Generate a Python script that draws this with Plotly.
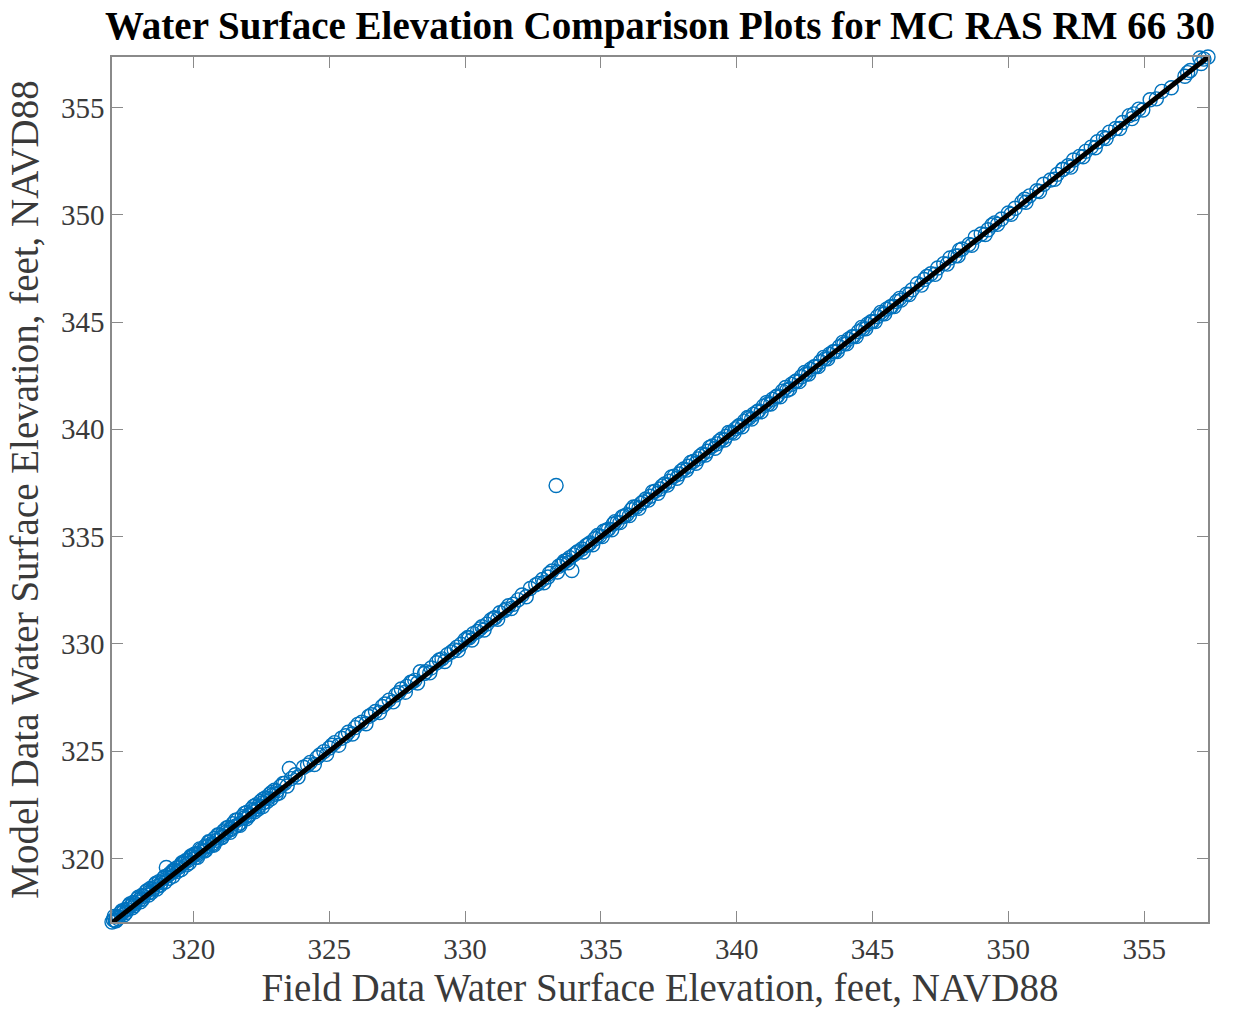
import plotly.graph_objects as go

# Observed (field) and simulated (model) water surface elevations, feet NAVD88
field_wse = [
    317.00, 317.05, 317.12, 317.18, 317.25, 317.31, 317.40, 317.46, 317.55, 317.62,
    317.70, 317.78, 317.85, 317.93, 318.02, 318.10, 318.17, 318.25, 318.34, 318.41,
    318.50, 318.58, 318.66, 318.73, 318.82, 318.90, 319.00, 319.05, 319.14, 319.22,
    319.30, 319.38, 319.47, 319.55, 319.63, 319.71, 319.80, 319.88, 319.95, 320.03,
    320.10, 320.18, 320.27, 320.35, 320.44, 320.52, 320.60, 320.69, 320.77, 320.86,
    320.94, 321.03, 321.11, 321.20, 321.28, 321.37, 321.45, 321.54, 321.62, 321.71,
    321.79, 321.88, 321.96, 322.05, 322.13, 322.22, 322.30, 322.39, 322.47, 322.56,
    322.64, 322.73, 322.81, 322.90, 322.98, 323.07, 323.20, 323.36, 323.53, 323.75,
    324.05, 324.30, 324.55, 324.80, 325.00, 325.20, 325.45, 325.70, 325.95, 326.20,
    326.45, 326.70, 326.95, 327.20, 327.45, 327.65, 327.85, 328.00, 328.15, 328.35,
    328.55, 328.75, 328.95, 329.15, 329.35, 329.50, 329.70, 329.85, 330.00, 330.15,
    330.30, 330.45, 330.62, 330.80, 330.95, 331.10, 331.28, 331.45, 331.60, 331.78,
    331.95, 332.40, 332.60, 332.85, 333.05, 333.20, 333.35, 333.45, 333.55, 333.65,
    333.75, 333.85, 333.93, 334.00,
    334.15, 334.30, 334.45, 334.60, 334.78, 334.95, 335.10, 335.28, 335.45, 335.60,
    335.78, 335.95, 336.12, 336.30, 336.48, 336.65, 336.82, 337.00, 337.18, 337.35,
    337.52, 337.70, 337.88, 338.05, 338.22, 338.40, 338.58, 338.75, 338.92, 339.10,
    339.28, 339.45, 339.62, 339.80, 339.95, 340.10,
    340.28, 340.45, 340.62, 340.80, 340.98, 341.15, 341.32, 341.50, 341.68, 341.85,
    342.02, 342.20, 342.38, 342.55, 342.72, 342.90, 343.08, 343.25, 343.42, 343.60,
    343.78, 343.95, 344.12, 344.30, 344.48, 344.65, 344.82, 345.00, 345.18, 345.35,
    345.52, 345.70, 345.88, 346.05, 346.25, 346.45,
    346.65, 346.90, 347.15, 347.40, 347.62, 347.85, 348.05, 348.30, 348.55, 348.78,
    349.00, 349.25, 349.50, 349.75, 350.00, 350.25, 350.50, 350.78, 351.05, 351.30,
    351.55, 351.80, 352.00, 352.20,
    352.40, 352.62, 352.85, 353.05, 353.28, 353.50, 353.72, 353.95, 354.20, 354.45,
    354.62, 354.80, 355.22, 355.65, 356.60, 356.70, 357.05, 357.20, 357.35,
    # second survey pass
    317.08, 317.22, 317.36, 317.52, 317.66, 317.82, 317.97, 318.13, 318.29, 318.46,
    318.62, 318.78, 318.94, 319.10, 319.26, 319.42, 319.58, 319.75, 319.91, 320.07,
    320.23, 320.40, 320.56, 320.72, 320.89, 321.05, 321.22, 321.38, 321.55, 321.72,
    321.88, 322.05, 322.21, 322.38, 322.55, 322.71, 322.88, 323.05, 323.30, 323.60,
    324.20, 324.65, 325.10, 325.60, 326.05, 326.55, 327.05, 327.55, 328.05, 328.50,
    329.05, 329.60, 330.10, 330.55, 331.05, 331.50, 332.10, 332.70, 333.10, 333.60,
    334.10, 334.52, 334.88, 335.20, 335.52, 335.85, 336.20, 336.55, 336.90, 337.25,
    337.60, 337.95, 338.30, 338.65, 339.00, 339.35, 339.70, 340.05, 340.40, 340.75,
    341.10, 341.45, 341.80, 342.15, 342.50, 342.85, 343.20, 343.55, 343.90, 344.25,
    344.60, 344.95, 345.30, 345.65, 346.00, 347.00, 348.20, 349.40, 350.60, 352.00,
    # third survey pass
    317.15, 317.45, 317.75, 318.05, 318.35, 318.65, 318.95, 319.25, 319.55, 319.85,
    320.15, 320.45, 320.75, 321.05, 321.35, 321.65, 321.95, 322.25, 322.55, 322.85,
    323.15, 323.45, 323.85, 324.45, 324.90, 325.35, 325.85, 326.35, 326.85, 327.35,
    327.80, 328.25, 328.70, 329.25, 329.75, 330.25, 330.70, 331.20, 331.70, 332.25,
    332.90, 333.40, 333.80, 334.35, 334.70, 335.05, 335.40, 335.70, 336.05, 336.40,
    336.75, 337.10, 337.45, 337.80, 338.15, 338.50, 338.85, 339.20, 339.55, 339.90,
    340.20, 340.55, 340.90, 341.25, 341.60, 341.95, 342.30, 342.65, 343.00, 343.35,
    343.70, 344.05, 344.40, 344.75, 345.10, 345.45, 345.80, 346.35, 346.80, 347.30,
    347.75, 348.15, 348.65, 349.15, 349.60, 350.10, 350.65, 351.15, 351.70, 352.30,
    352.75, 353.20, 353.60, 354.10, 354.55, 354.95, 355.45, 356.00, 356.50, 357.10,
]

model_wse = [
    317.04, 317.14, 317.10, 317.30, 317.29, 317.45, 317.48, 317.60, 317.62, 317.80,
    317.79, 317.95, 317.90, 318.12, 318.09, 318.28, 318.24, 318.45, 318.40, 318.60,
    318.57, 318.78, 318.70, 318.92, 318.88, 319.08, 319.58, 319.20, 319.30, 319.38,
    319.42, 319.56, 319.60, 319.72, 319.76, 319.90, 319.92, 320.06, 320.08, 320.20,
    320.22, 320.20, 320.40, 320.38, 320.58, 320.55, 320.76, 320.70, 320.93, 320.85,
    321.10, 321.08, 321.28, 321.22, 321.45, 321.40, 321.62, 321.50, 321.80, 321.55,
    321.95, 321.90, 322.14, 322.05, 322.30, 322.26, 322.50, 322.42, 322.66, 322.60,
    322.82, 322.80, 323.00, 322.95, 323.18, 323.15, 323.36, 323.50, 324.19, 323.90,
    324.25, 324.48, 324.70, 324.98, 325.15, 325.40, 325.60, 325.88, 326.10, 326.35,
    326.62, 326.85, 327.08, 327.38, 327.62, 327.90, 328.02, 328.22, 328.30, 328.70,
    328.70, 328.88, 329.12, 329.30, 329.50, 329.62, 329.85, 329.98, 330.20, 330.28,
    330.48, 330.58, 330.80, 330.92, 331.12, 331.22, 331.45, 331.55, 331.78, 331.85,
    332.05, 332.58, 332.75, 333.00, 333.12, 333.40, 337.38, 333.62, 333.70, 333.85,
    333.90, 334.02, 333.42, 334.15,
    334.30, 334.42, 334.58, 334.70, 334.90, 335.02, 335.25, 335.35, 335.58, 335.66,
    335.92, 336.02, 336.25, 336.38, 336.55, 336.75, 336.88, 337.12, 337.22, 337.45,
    337.58, 337.82, 337.92, 338.15, 338.28, 338.50, 338.62, 338.85, 338.98, 339.22,
    339.32, 339.55, 339.68, 339.85, 340.02, 340.18,
    340.38, 340.52, 340.70, 340.85, 341.08, 341.18, 341.40, 341.55, 341.78, 341.82,
    342.10, 342.25, 342.45, 342.58, 342.80, 342.92, 343.15, 343.28, 343.50, 343.62,
    343.85, 343.98, 344.20, 344.32, 344.55, 344.68, 344.90, 345.02, 345.25, 345.38,
    345.60, 345.72, 345.95, 346.02, 346.30, 346.50,
    346.78, 346.98, 347.25, 347.52, 347.72, 347.98, 348.08, 348.40, 348.62, 348.95,
    349.10, 349.30, 349.62, 349.80, 350.08, 350.30, 350.60, 350.88, 351.12, 351.42,
    351.62, 351.88, 352.10, 352.28,
    352.55, 352.72, 352.95, 353.15, 353.40, 353.60, 353.85, 354.02, 354.30, 354.62,
    354.70, 354.92, 355.36, 355.75, 356.62, 356.72, 357.30, 357.25, 357.35,
    # second survey pass
    317.30, 317.20, 317.55, 317.48, 317.88, 317.80, 318.20, 318.10, 318.50, 318.42,
    318.85, 318.75, 319.15, 319.08, 319.45, 319.40, 319.80, 319.70, 320.12, 320.05,
    320.45, 320.35, 320.78, 320.65, 321.10, 321.00, 321.42, 321.35, 321.78, 321.65,
    322.10, 322.00, 322.42, 322.30, 322.75, 322.65, 323.08, 323.00, 323.50, 323.72,
    324.35, 324.82, 325.28, 325.72, 326.25, 326.70, 327.20, 327.72, 328.22, 328.62,
    329.25, 329.72, 330.30, 330.70, 331.20, 331.62, 332.28, 332.82, 333.28, 333.75,
    334.25, 334.62, 335.05, 335.30, 335.70, 335.95, 336.38, 336.62, 337.08, 337.35,
    337.78, 338.05, 338.45, 338.75, 339.15, 339.45, 339.85, 340.12, 340.55, 340.82,
    341.25, 341.52, 341.95, 342.22, 342.65, 342.92, 343.35, 343.62, 344.05, 344.32,
    344.75, 345.02, 345.45, 345.70, 346.10, 347.12, 348.35, 349.52, 350.72, 352.12,
    # third survey pass
    317.10, 317.38, 317.70, 317.98, 318.30, 318.58, 318.90, 319.18, 319.48, 319.80,
    320.05, 320.38, 320.62, 320.98, 321.22, 321.58, 321.85, 322.18, 322.42, 322.78,
    323.05, 323.38, 323.80, 324.38, 324.85, 325.28, 325.80, 326.28, 326.80, 327.30,
    327.75, 328.18, 328.65, 329.18, 329.70, 330.18, 330.65, 331.15, 331.65, 332.20,
    332.85, 333.35, 333.78, 334.28, 334.62, 335.00, 335.32, 335.65, 335.98, 336.32,
    336.70, 337.02, 337.40, 337.72, 338.10, 338.42, 338.80, 339.12, 339.50, 339.82,
    340.12, 340.48, 340.82, 341.18, 341.52, 341.88, 342.22, 342.58, 342.92, 343.28,
    343.62, 343.98, 344.32, 344.68, 345.02, 345.38, 345.72, 346.28, 346.72, 347.22,
    347.70, 348.08, 348.58, 349.08, 349.55, 350.02, 350.58, 351.08, 351.65, 352.22,
    352.70, 353.12, 353.55, 354.02, 354.48, 354.88, 355.40, 355.92, 356.45, 357.05,
]

# End points of the 1:1 reference line
line_x = [min(field_wse), max(field_wse)]
line_y = [min(field_wse), max(field_wse)]

x_range = [min(field_wse), max(field_wse)]
y_range = [min(model_wse), max(model_wse)]
tick_vals = [320, 325, 330, 335, 340, 345, 350, 355]

title_text = "Water Surface Elevation Comparison Plots for MC RAS RM 66 30"
x_title = "Field Data Water Surface Elevation, feet, NAVD88"
y_title = "Model Data Water Surface Elevation, feet, NAVD88"

SERIF = "Liberation Serif, Times New Roman, serif"
AXIS_GRAY = "#8a8a8a"
TEXT_GRAY = "#3a3a3a"

fig = go.Figure()
fig.add_trace(go.Scatter(
    x=field_wse, y=model_wse, mode="markers",
    marker=dict(symbol="circle-open", size=14, color="#0072BD",
                line=dict(width=1.4, color="#0072BD")),
    cliponaxis=False, showlegend=False,
))
fig.add_trace(go.Scatter(
    x=line_x, y=line_y, mode="lines",
    line=dict(color="black", width=5),
    cliponaxis=False, showlegend=False,
))

axis_common = dict(
    showgrid=False, zeroline=False, automargin=False,
    showline=True, linecolor=AXIS_GRAY, linewidth=1.5, mirror="allticks",
    ticks="inside", ticklen=11, tickwidth=1.2, tickcolor=AXIS_GRAY,
    tickvals=tick_vals,
    tickfont=dict(family=SERIF, size=29, color=TEXT_GRAY),
)

fig.update_layout(
    width=1233, height=1009,
    margin=dict(l=112, r=25, t=57, b=87),
    paper_bgcolor="white", plot_bgcolor="white",
    title=dict(text="<b>" + title_text + "</b>", x=0.5, xanchor="center",
               xref="paper", y=0.975, yanchor="middle",
               font=dict(family=SERIF, size=39, color="black")),
    xaxis=dict(range=x_range, title=dict(text=x_title, standoff=12,
               font=dict(family=SERIF, size=39, color=TEXT_GRAY)), **axis_common),
    yaxis=dict(range=y_range, title=dict(text=y_title, standoff=10,
               font=dict(family=SERIF, size=39, color=TEXT_GRAY)), **axis_common),
)

fig.write_html("out.html")
